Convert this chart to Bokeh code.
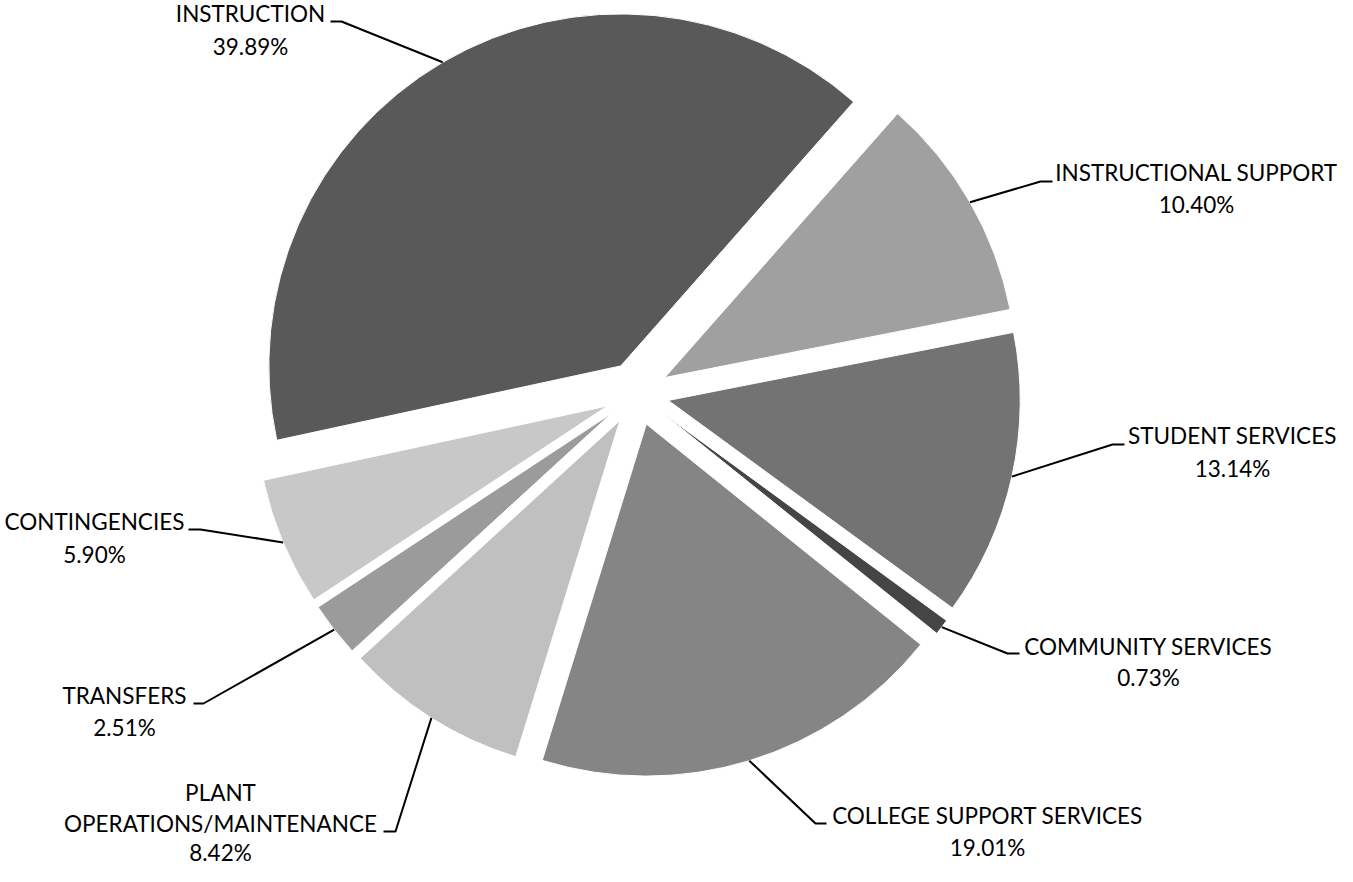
import math
from bokeh.plotting import figure
from bokeh.models import Range1d, ColumnDataSource
from bokeh.core.properties import value
from bokeh.embed import file_html
from bokeh.resources import INLINE

# ---------------- data ----------------
categories = ["INSTRUCTION", "INSTRUCTIONAL SUPPORT", "STUDENT SERVICES",
              "COMMUNITY SERVICES", "COLLEGE SUPPORT SERVICES",
              "PLANT OPERATIONS/MAINTENANCE", "TRANSFERS", "CONTINGENCIES"]
label_lines = [["INSTRUCTION"], ["INSTRUCTIONAL SUPPORT"], ["STUDENT SERVICES"],
               ["COMMUNITY SERVICES"], ["COLLEGE SUPPORT SERVICES"],
               ["PLANT", "OPERATIONS/MAINTENANCE"], ["TRANSFERS"], ["CONTINGENCIES"]]
percents = [39.89, 10.40, 13.14, 0.73, 19.01, 8.42, 2.51, 5.90]

# ---------------- style / layout ----------------
colors = ["#595959", "#A0A0A0", "#737373", "#454545", "#858585",
          "#C0C0C0", "#9B9B9B", "#C8C8C8"]
W, H = 1337, 866
CX, CY = 636.5, H - 393      # pie centre (px from top-left -> data)
R = 352
EXPLODE = 32
START_DEG = 192.2            # counter-clockwise edge of first slice; slices run clockwise
FONT = "Lato"
FONT_SIZE = "22.5px"
TEXT_DY = 8                  # rendered text sits this much below its anchor

# label block: centre x, baselines (px from top)
label_pos = [(250, [21, 54]), (1196, [180, 212]), (1232, [443, 476]),
             (1148, [654, 685]), (987, [823, 855]), (220, [800, 831, 860]),
             (124, [703, 735]), (94, [529, 562])]
# leader: text-side x, elbow x, y (px from top)
leader_pos = [(330, 341, 21), (1052, 1040, 181), (1124, 1112, 444),
              (1019, 1007, 653), (826, 815, 823), (383, 395, 831),
              (193, 203, 703), (188, 200, 529)]

p = figure(width=W, height=H, title=None,
           x_range=Range1d(0, W), y_range=Range1d(0, H),
           output_backend="svg", toolbar_location=None, min_border=0,
           x_axis_location=None, y_axis_location=None)
p.grid.visible = False
p.outline_line_color = None
p.background_fill_color = "white"
p.border_fill_color = "white"

xs, ys, starts, ends, mids = [], [], [], [], []
cum = 0.0
for v in percents:
    a0 = START_DEG - cum * 3.6
    a1 = a0 - v * 3.6
    cum += v
    m = math.radians((a0 + a1) / 2)
    xs.append(CX + EXPLODE * math.cos(m))
    ys.append(CY + EXPLODE * math.sin(m))
    starts.append(math.radians(a1))
    ends.append(math.radians(a0))
    mids.append(m)

src = ColumnDataSource(dict(x=xs, y=ys, s=starts, e=ends, c=colors, name=categories, v=percents))
p.wedge(x="x", y="y", radius=R, start_angle="s", end_angle="e", direction="anticlock",
        fill_color="c", line_color="white", line_width=1, source=src)

# leader lines: horizontal stub next to the label, then to the middle of the slice's arc
lx, ly = [], []
for i, (tx, ex, py) in enumerate(leader_pos):
    ax = xs[i] + R * math.cos(mids[i])
    ay = ys[i] + R * math.sin(mids[i])
    lx.append([tx, ex, ax])
    ly.append([H - py, H - py, ay])
p.multi_line(xs=lx, ys=ly, line_color="black", line_width=2)

# labels
tx_, ty_, tt_ = [], [], []
for i, lines in enumerate(label_lines):
    cx, bys = label_pos[i]
    allines = lines + [f"{percents[i]:.2f}%"]
    for t, by in zip(allines, bys):
        tx_.append(cx)
        ty_.append(H - (by - TEXT_DY))
        tt_.append(t)
p.text(x=tx_, y=ty_, text=tt_, text_align="center", text_baseline="alphabetic",
       text_font=value(FONT), text_font_size=FONT_SIZE, text_color="black")

open("out.html", "w").write(file_html(p, INLINE))
